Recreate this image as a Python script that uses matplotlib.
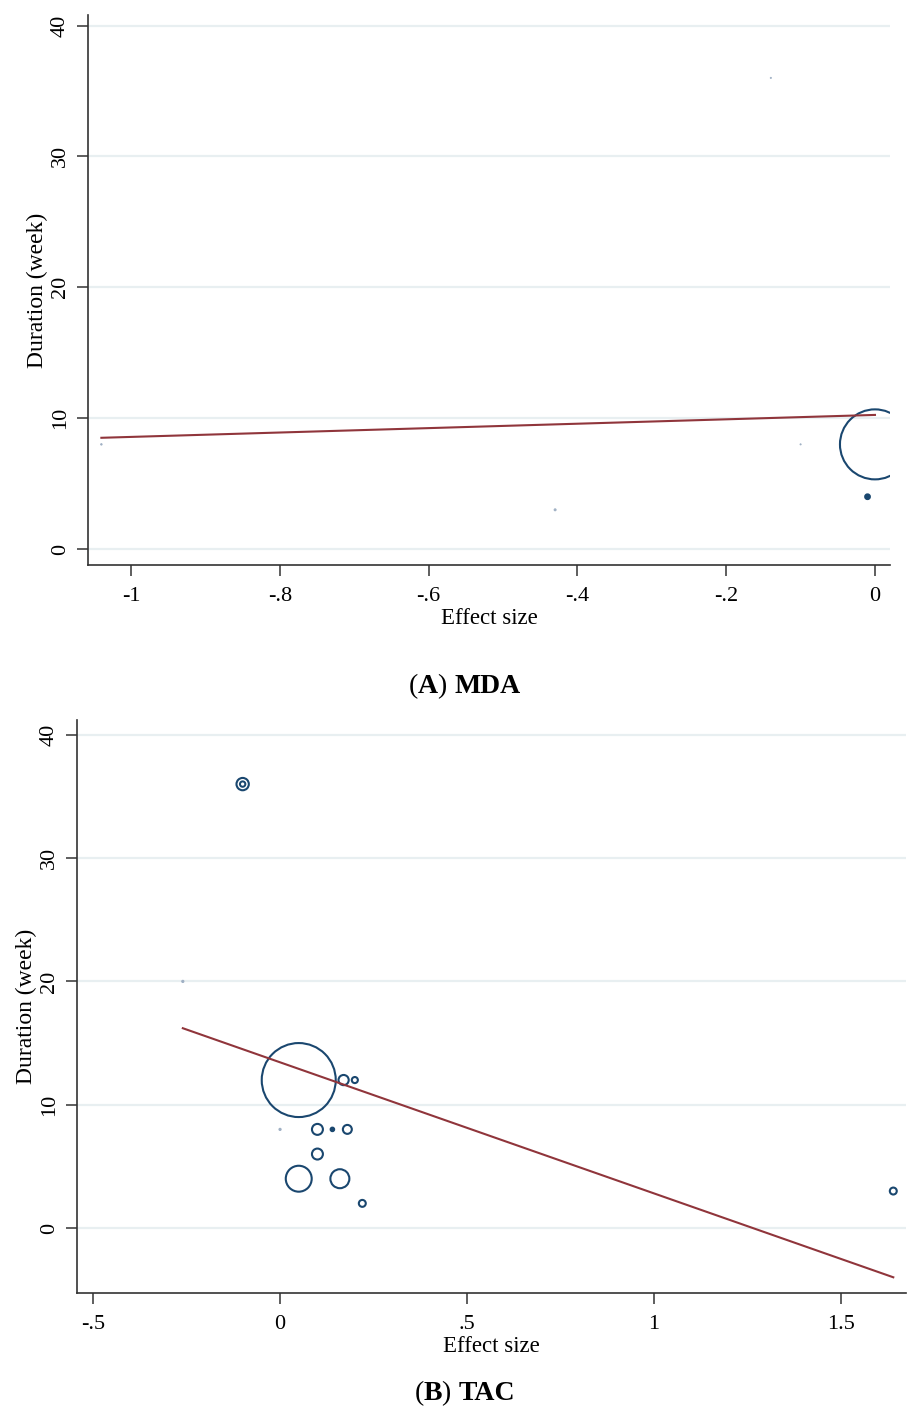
import matplotlib

matplotlib.use("Agg")
import matplotlib.pyplot as plt
import numpy as np

# ---- data ---------------------------------------------------------------------
# (A) MDA: effect size, duration (weeks), study weight
mda_effect = [-1.04, -0.43, -0.14, -0.10, -0.01, 0.00]
mda_duration = [8, 3, 36, 8, 4, 8]
mda_weight = [0.15, 0.25, 0.1, 0.1, 1.5, 306]
mda_slope, mda_intercept = 1.68, 10.25

# (B) TAC
tac_effect = [-0.10, -0.10, -0.26, 0.05, 0.17, 0.20, 0.00, 0.10, 0.14, 0.18,
              0.10, 0.05, 0.16, 0.22, 1.64]
tac_duration = [36, 36, 20, 12, 12, 12, 8, 8, 8, 8, 6, 4, 4, 2, 3]
tac_weight = [9.5, 1.8, 0.3, 342, 6.5, 2.3, 0.3, 7.5, 1.0, 5.0, 7.5, 42, 22.5, 3.0, 3.0]
tac_slope, tac_intercept = -10.63, 13.44

mda_xticks = [-1, -0.8, -0.6, -0.4, -0.2, 0]
mda_xlabels = ["-1", "-.8", "-.6", "-.4", "-.2", "0"]
tac_xticks = [-0.5, 0, 0.5, 1, 1.5]
tac_xlabels = ["-.5", "0", ".5", "1", "1.5"]
yticks = [0, 10, 20, 30, 40]

NAVY = "#1a476f"
PALE = "#9fb0c4"
RED = "#90353b"
GRID = "#e8eff1"

plt.rcParams["font.family"] = ["Liberation Serif", "DejaVu Serif"]


def bubble_panel(ax, x, y, w, slope, intercept, xticks, xlabels, xlim, ylim):
    w = np.asarray(w, dtype=float)
    sizes = 8.3 * w
    lws = np.clip(0.25 + 0.9 * np.sqrt(w), 0.3, 1.5)
    # very small weights render as solid dots (the outline fills them)
    tiny = w < 0.5
    small = (w >= 0.5) & (w <= 1.6)
    edge = [PALE if t else NAVY for t in tiny]
    face = [PALE if t else (NAVY if s else "none") for t, s in zip(tiny, small)]
    ax.scatter(x, y, s=sizes, facecolors=face, edgecolors=edge,
               linewidths=lws, zorder=3)
    xs = np.array([min(x), max(x)])
    ax.plot(xs, intercept + slope * xs, color=RED, lw=1.5, zorder=4)

    ax.set_xlim(*xlim); ax.set_ylim(*ylim)
    ax.set_yticks(yticks)
    ax.set_yticklabels([str(t) for t in yticks], rotation=90, va="center")
    ax.set_xticks(xticks)
    ax.set_xticklabels(xlabels)
    ax.grid(axis="y", color=GRID, lw=1.6, zorder=0)
    ax.set_axisbelow(True)
    for side in ("top", "right"):
        ax.spines[side].set_visible(False)
    for side in ("left", "bottom"):
        ax.spines[side].set_color("#333333")
        ax.spines[side].set_linewidth(1.2)
    ax.tick_params(direction="out", length=8, width=1.1, color="#333333",
                   labelsize=16, pad=5)
    ax.tick_params(axis="x", pad=8)
    ax.set_xlabel("Effect size", fontsize=16.5, labelpad=1)
    ax.set_ylabel("Duration (week)", fontsize=17, labelpad=2)


def caption(fig, xc, yc, letter, name):
    # "(A) MDA": parentheses regular, letter and name bold
    parts = [("(", "normal"), (letter, "bold"), (") ", "normal"), (name, "bold")]
    txt = fig.text(0, yc, parts[0][0], fontsize=20, fontweight=parts[0][1],
                   va="baseline")
    pieces = [txt]
    for s, wt in parts[1:]:
        t = plt.annotate(s, xy=(1, 0), xycoords=pieces[-1], fontsize=20,
                         fontweight=wt, va="bottom", annotation_clip=False)
        pieces.append(t)
    fig.canvas.draw()
    r = fig.canvas.get_renderer()
    x0 = pieces[0].get_window_extent(r).x0
    x1 = pieces[-1].get_window_extent(r).x1
    shift = xc * fig.bbox.width - (x0 + x1) / 2
    txt.set_x(shift / fig.bbox.width)


fig = plt.figure(figsize=(9.08, 14.07), dpi=100)

ax_a = fig.add_axes([0.0969, 0.5984, 0.8831, 0.3909])
bubble_panel(ax_a, mda_effect, mda_duration, mda_weight, mda_slope, mda_intercept,
             mda_xticks, mda_xlabels, (-1.058, 0.02), (-1.22, 40.8))

ax_b = fig.add_axes([0.0848, 0.0810, 0.9130, 0.4073])
bubble_panel(ax_b, tac_effect, tac_duration, tac_weight, tac_slope, tac_intercept,
             tac_xticks, tac_xlabels, (-0.543, 1.674), (-5.27, 41.2))

caption(fig, 0.512, 1 - 693 / 1407, "A", "MDA")
caption(fig, 0.512, 1 - 1400 / 1407, "B", "TAC")

fig.savefig("out.png", dpi=100)
plt.close(fig)
